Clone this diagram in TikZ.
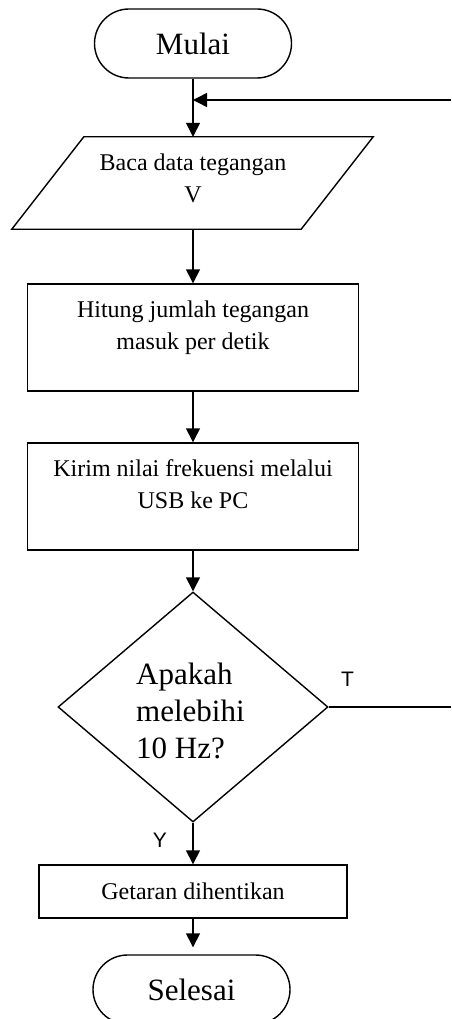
\documentclass[tikz,border=0pt]{standalone}
\usepackage{fontspec}
\setmainfont{Liberation Serif}
\newfontfamily\labelfont{Liberation Sans}
\usetikzlibrary{arrows.meta, positioning, shapes.geometric}

\begin{document}
\begin{tikzpicture}[x=1pt, y=-1pt,
    garis/.style={line width=1.4pt},
    panah/.style={garis, -{Triangle[length=14pt, width=14pt]}},
    terminal/.style={draw, garis, rectangle, rounded corners=34.5pt, minimum width=197pt,
        minimum height=69pt, inner sep=0pt, font=\fontsize{31}{37}\selectfont},
    kotak/.style={draw, garis, rectangle, inner sep=0pt},
    teks/.style={inner sep=0pt, align=center, font=\fontsize{24}{32}\selectfont},
    label yt/.style={inner sep=0pt, font=\labelfont\fontsize{21}{25}\selectfont}]
    \useasboundingbox (0,0) rectangle (451,1019);

    % mulai
    \node[terminal] (mulai) at (193,43.5) {Mulai};

    % baca data (jajaran genjang)
    \node[minimum width=289pt, minimum height=92pt, inner sep=0pt] (baca) at (192.5,183) {};
    \draw[garis] ([xshift=36pt]baca.north west) -- ([xshift=36pt]baca.north east)
        -- ([xshift=-36pt]baca.south east) -- ([xshift=-36pt]baca.south west) -- cycle;
    \node[teks] (bacateks) at (193,178.5) {Baca data tegangan\\V};

    % hitung
    \node[kotak, minimum width=331pt, minimum height=107pt] (hitung) at (193,337.5) {};
    \node[teks] (hitungteks) at (193,328) {Hitung jumlah tegangan\\masuk per detik};

    % kirim
    \node[kotak, minimum width=331pt, minimum height=107pt] (kirim) at (193,496.5) {};
    \node[teks] (kirimteks) at (193,484) {Kirim nilai frekuensi melalui\\USB ke PC};

    % keputusan
    \node[draw, garis, diamond, minimum width=270pt, minimum height=230pt,
        inner sep=0pt] (cek) at (193,707) {};
    \node[teks, anchor=west, align=left, font=\fontsize{31}{37}\selectfont] (cekteks)
        at (136,711) {Apakah\\melebihi\\10 Hz?};

    % getaran
    \node[kotak, minimum width=308pt, minimum height=53pt, font=\fontsize{24}{32}\selectfont]
        (getaran) at (193,891.5) {Getaran dihentikan};

    % selesai
    \node[terminal] (selesai) at (191.5,989.5) {Selesai};

    % garis balik
    \coordinate (balik) at (451,100);
    \coordinate (kanan) at (451,707);

    \draw[panah] (mulai.south) -- (mulai.south |- baca.north);
    \draw[panah] (mulai.south |- baca.south) -- (hitung.north);
    \draw[panah] (hitung) -- (kirim);
    \draw[panah] (kirim) -- (cek);
    \draw[panah] (cek) -- (getaran);
    \draw[panah, shorten >=7pt] (getaran.south) -- (getaran.south |- selesai.north);
    \draw[panah] (balik) -- (balik -| mulai.south);
    \draw[garis] (cek.east) -- (kanan);

    % label
    \node[label yt] (tlabel) at (347.5,679.5) {T};
    \node[label yt] (ylabel) at (160,840) {Y};
\end{tikzpicture}
\end{document}
